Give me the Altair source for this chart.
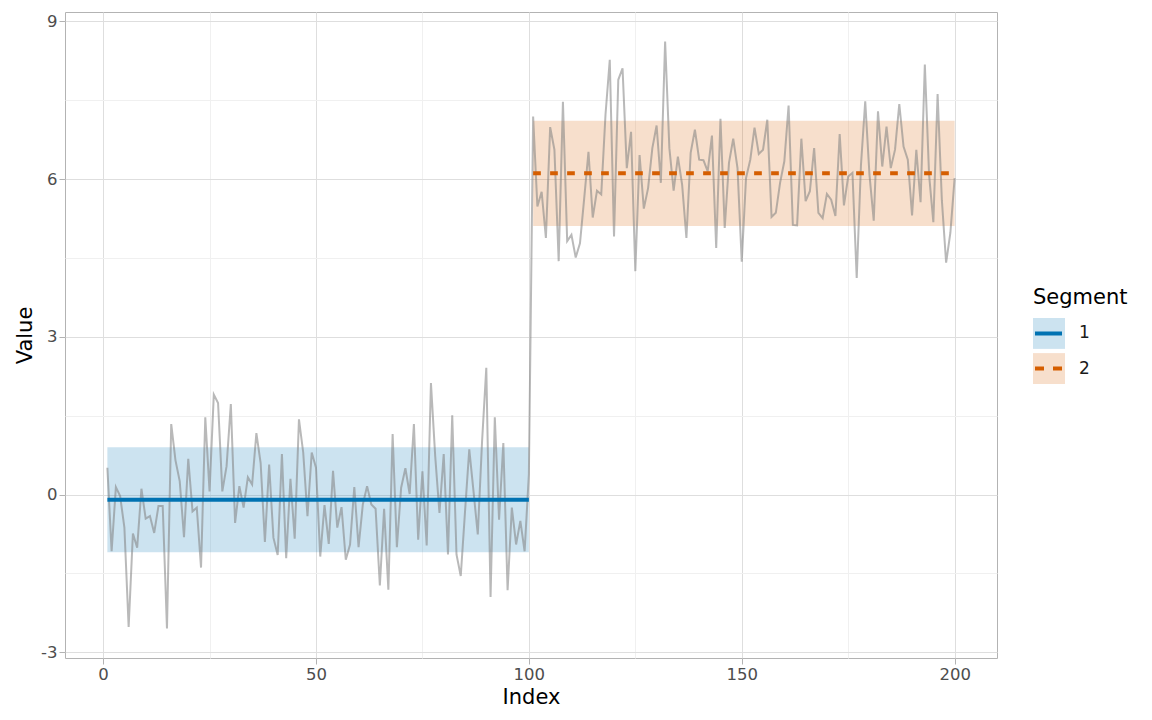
import altair as alt
import pandas as pd

# values, index 1..100 and 101..200
segment_1_values = [
    0.51, -1.08, 0.14, -0.03, -0.63, -2.52, -0.74, -1.01, 0.11, -0.46,
    -0.41, -0.73, -0.22, -0.22, -2.55, 1.34, 0.65, 0.25, -0.81, 0.68,
    -0.32, -0.25, -1.39, 1.47, 0.06, 1.90, 1.74, 0.06, 0.54, 1.72,
    -0.54, 0.16, -0.25, 0.33, 0.19, 1.17, 0.60, -0.90, 0.57, -0.82,
    -1.15, 0.77, -1.21, 0.30, -0.84, 1.43, 0.80, -0.41, 0.80, 0.51,
    -1.18, -0.20, -0.94, 0.45, -0.63, -0.24, -1.24, -0.95, 0.14, -1.00,
    -0.19, 0.16, -0.19, -0.27, -1.73, -0.27, -1.81, 1.15, -1.00, 0.13,
    0.50, 0.01, 1.34, -0.86, 0.44, -0.97, 2.12, 0.73, -0.35, 0.77,
    -1.14, 1.51, -1.14, -1.55, -0.33, 0.86, 0.06, -0.76, 1.00, 2.41,
    -1.95, 1.47, -0.48, 0.98, -1.82, -0.25, -0.95, -0.50, -1.08, 0.38,
]
segment_2_values = [
    7.19, 5.48, 5.76, 4.88, 6.99, 6.56, 4.44, 7.47, 4.82, 4.94,
    4.51, 4.78, 5.64, 6.52, 5.27, 5.78, 5.71, 7.23, 8.27, 4.91,
    7.89, 8.11, 6.21, 6.90, 4.25, 6.46, 5.44, 5.83, 6.59, 7.02,
    5.93, 8.62, 6.59, 5.78, 6.43, 5.89, 4.88, 6.50, 6.94, 6.37,
    6.36, 6.15, 6.83, 4.69, 7.15, 5.07, 6.31, 6.77, 6.21, 4.43,
    6.02, 6.37, 6.98, 6.48, 6.56, 7.13, 5.28, 5.36, 5.93, 6.34,
    7.40, 5.13, 5.12, 6.77, 5.58, 5.77, 6.59, 5.36, 5.26, 5.72,
    5.61, 5.30, 6.86, 5.50, 6.05, 6.12, 4.12, 6.27, 7.48, 6.08,
    5.21, 7.29, 6.24, 7.00, 6.21, 6.56, 7.43, 6.62, 6.37, 5.31,
    6.56, 5.56, 8.18, 6.08, 5.18, 7.62, 5.60, 4.41, 4.98, 6.02,
]
segment_labels = ["1", "2"]
segment_start = [1, 101]
segment_end = [100, 200]
segment_means = [-0.10, 6.11]
segment_halfwidth = [1.0, 1.0]

x_breaks = [0, 25, 50, 75, 100, 125, 150, 175, 200]
y_breaks = [-3, -1.5, 0, 1.5, 3, 4.5, 6, 7.5, 9]

palette = ["#0072B2", "#D55E00"]
dashes = [[1, 0], [7.7, 9.3]]
key_dashes = [[1, 0], [9, 9]]
FONT = "DejaVu Sans"

values = segment_1_values + segment_2_values
series = pd.DataFrame({"Index": list(range(1, len(values) + 1)), "Value": values})
segs = pd.DataFrame({
    "Segment": segment_labels,
    "start": segment_start,
    "end": segment_end,
    "mean": segment_means,
    "lo": [m - h for m, h in zip(segment_means, segment_halfwidth)],
    "hi": [m + h for m, h in zip(segment_means, segment_halfwidth)],
})

color = alt.Color("Segment:N", scale=alt.Scale(domain=segment_labels, range=palette), legend=None)
dash = alt.StrokeDash("Segment:N", scale=alt.Scale(domain=segment_labels, range=dashes), legend=None)
key_dash = alt.StrokeDash("Segment:N", scale=alt.Scale(domain=segment_labels, range=key_dashes), legend=None)


def gg_axis(breaks, step, title, pad):
    # major breaks labelled, minor breaks only get a faint grid line
    major = f"datum.value % {step} == 0"
    return alt.Axis(
        values=breaks, title=title, domain=False,
        labelExpr=f"{major} ? toString(datum.value) : ''",
        gridColor={"condition": {"test": major, "value": "#dedede"}, "value": "#f0f0f0"},
        tickOpacity={"condition": {"test": major, "value": 1}, "value": 0},
        tickColor="#b3b3b3", tickSize=6, labelPadding=2, titlePadding=pad,
        labelColor="#4d4d4d", labelFontSize=16.5, labelFont=FONT,
        labelOverlap=False, labelFlush=False,
        titleFont=FONT, titleFontSize=21, titleFontWeight="normal", titleColor="black",
    )


x_scale = alt.Scale(domain=[-8.95, 209.95], nice=False, zero=False)
y_scale = alt.Scale(domain=[-3.11, 9.18], nice=False, zero=False)
x_axis = gg_axis(x_breaks, 50, "Index", 4)
y_axis = gg_axis(y_breaks, 3, "Value", 5)

ribbon = alt.Chart(segs).mark_rect(opacity=0.2).encode(
    x=alt.X("start:Q", scale=x_scale, axis=x_axis), x2="end",
    y=alt.Y("lo:Q", scale=y_scale, axis=y_axis), y2="hi",
    color=color,
)
trace = alt.Chart(series).mark_line(color="#7f7f7f", opacity=0.55, strokeWidth=2).encode(
    x=alt.X("Index:Q", scale=x_scale, axis=x_axis),
    y=alt.Y("Value:Q", scale=y_scale, axis=y_axis),
)
means = alt.Chart(segs).mark_rule(strokeWidth=4).encode(
    x=alt.X("start:Q", scale=x_scale, axis=x_axis), x2="end",
    y=alt.Y("mean:Q", scale=y_scale, axis=y_axis),
    color=color, strokeDash=dash,
)
main = (ribbon + trace + means).properties(width=932, height=646)

# hand-made legend: ribbon fill behind the mean line, like the ggplot key
key_y = alt.Y("Segment:N", axis=None,
              scale=alt.Scale(domain=segment_labels, range=[306, 372], paddingInner=0.12, paddingOuter=0))
key_box = alt.Chart(segs).mark_rect(opacity=0.2).encode(
    x=alt.value(15), x2=alt.value(47), y=key_y, color=color)
key_line = alt.Chart(segs).mark_rule(strokeWidth=4).encode(
    x=alt.value(17), x2=alt.value(44), y=key_y, color=color, strokeDash=key_dash)
key_text = alt.Chart(segs).mark_text(align="left", baseline="middle", fontSize=17, font=FONT, color="#1a1a1a").encode(
    x=alt.value(61), y=key_y, text="Segment:N")
key_title = alt.Chart(pd.DataFrame({"title": ["Segment"]})).mark_text(
    align="left", baseline="alphabetic", fontSize=21, font=FONT, color="black").encode(
    x=alt.value(15), y=alt.value(292), text="title:N")
legend = (key_box + key_line + key_text + key_title).properties(
    width=110, height=646, view=alt.ViewBackground(strokeOpacity=0))

chart = (
    alt.hconcat(main, legend, spacing=20)
    .resolve_scale(y="independent", strokeDash="independent")
    .properties(padding={"left": 6, "top": 3, "right": 5, "bottom": 5}, background="white")
    .configure_view(stroke="#b3b3b3", strokeWidth=1)
)

chart.save("out.html", embed_options={"renderer": "svg", "actions": False})
